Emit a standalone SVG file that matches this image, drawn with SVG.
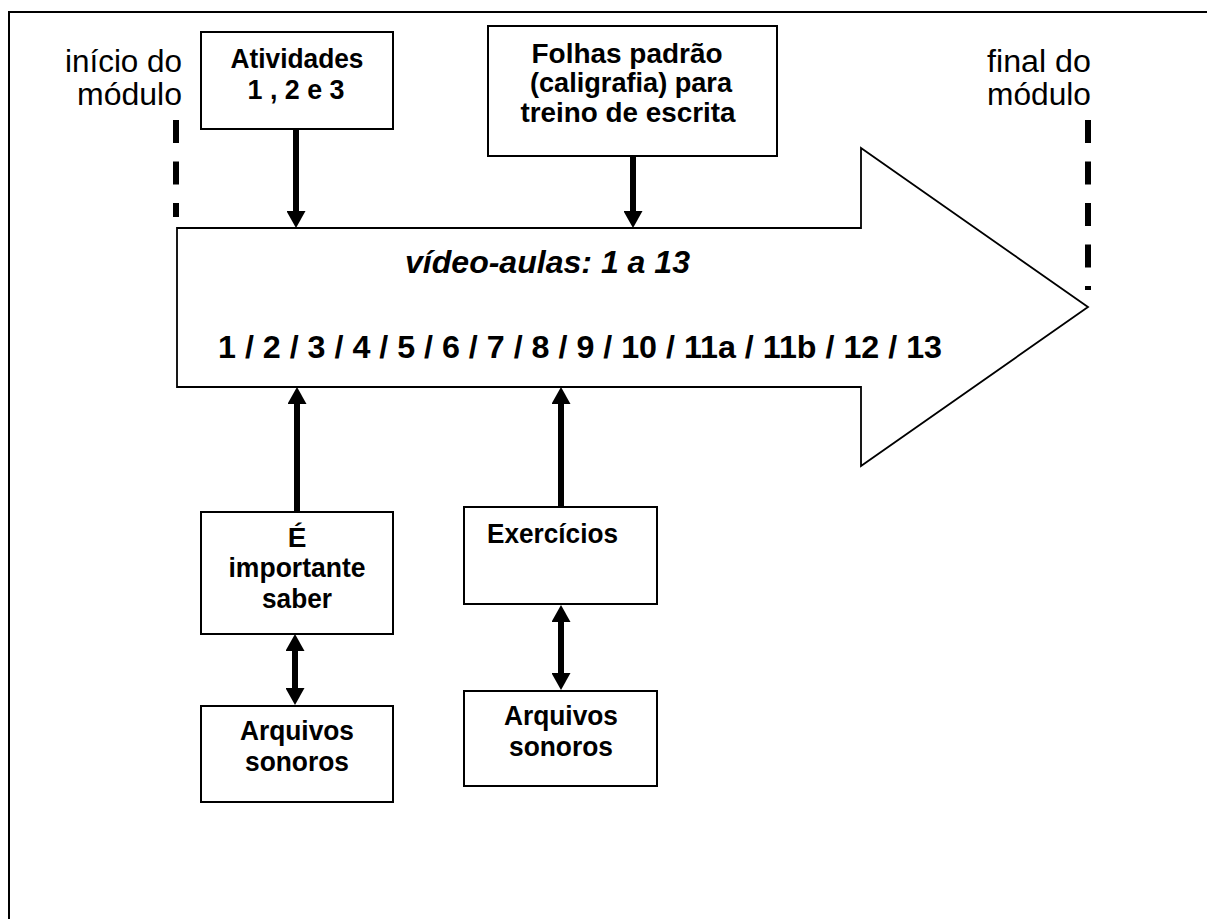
<svg xmlns="http://www.w3.org/2000/svg" width="1207" height="919" viewBox="0 0 1207 919">
<style>
.frame{fill:none;stroke:#000;stroke-width:2}
.box{fill:#fff;stroke:#000;stroke-width:2}
.big{fill:#fff;stroke:#000;stroke-width:1.8;stroke-linejoin:miter}
.dash{fill:none;stroke:#000;stroke-width:6;stroke-dasharray:23 18.5}
.conn{fill:none;stroke:#000;stroke-width:6}
.lbl{font-family:"Liberation Sans",Arial,sans-serif;font-size:31px;fill:#000}
.b{font-family:"Liberation Sans",Arial,sans-serif;font-size:28px;font-weight:bold;fill:#000}
.c{text-anchor:middle}
.bi{font-family:"Liberation Sans",Arial,sans-serif;font-size:31px;font-weight:bold;font-style:italic;fill:#000}
.num{font-family:"Liberation Sans",Arial,sans-serif;font-size:32px;font-weight:bold;fill:#000}
</style>
<defs>
<marker id="ah" markerUnits="userSpaceOnUse" markerWidth="17" markerHeight="19" viewBox="0 0 17 19" refX="3" refY="9.5" orient="auto-start-reverse">
<path d="M0,0 L17,9.5 L0,19 z" fill="#000"/>
</marker>
</defs>
<rect width="1207" height="919" fill="#fff"/>
<path class="frame" d="M9,919 V12 H1207"/>

<g id="inicio">
<text class="lbl" x="182" y="72" text-anchor="end" textLength="117" lengthAdjust="spacingAndGlyphs">início do</text>
<text class="lbl" x="182" y="105" text-anchor="end" textLength="105" lengthAdjust="spacingAndGlyphs">módulo</text>
<line class="dash" x1="176" y1="120" x2="176" y2="217"/>
</g>
<g id="final">
<text class="lbl" x="987" y="72" textLength="104" lengthAdjust="spacingAndGlyphs">final do</text>
<text class="lbl" x="987" y="105" textLength="104" lengthAdjust="spacingAndGlyphs">módulo</text>
<line class="dash" x1="1088" y1="120" x2="1088" y2="290"/>
</g>

<g id="videoaulas">
<polygon class="big" points="177,228 861,228 861,148 1088,307 861,466 861,387 177,387"/>
<text class="bi" x="405" y="273" textLength="285" lengthAdjust="spacingAndGlyphs">vídeo-aulas: 1 a 13</text>
<text class="num" x="218" y="358" textLength="724" lengthAdjust="spacingAndGlyphs">1 / 2 / 3 / 4 / 5 / 6 / 7 / 8 / 9 / 10 / 11a / 11b / 12 / 13</text>
</g>

<g id="atividades">
<rect class="box" x="201" y="32" width="192" height="97"/>
<text class="b c" x="297" y="68" textLength="133" lengthAdjust="spacingAndGlyphs">Atividades</text>
<text class="b c" x="296" y="99" textLength="97" lengthAdjust="spacingAndGlyphs">1 , 2 e 3</text>
</g>

<g id="folhas">
<rect class="box" x="488" y="26" width="289" height="130"/>
<text class="b c" x="627" y="63" textLength="191" lengthAdjust="spacingAndGlyphs">Folhas padrão</text>
<text class="b c" x="631" y="92" textLength="202" lengthAdjust="spacingAndGlyphs">(caligrafia) para</text>
<text class="b c" x="628" y="122" textLength="215" lengthAdjust="spacingAndGlyphs">treino de escrita</text>
</g>

<g id="importante">
<rect class="box" x="201" y="512" width="192" height="122"/>
<text class="b c" x="297" y="547">É</text>
<text class="b c" x="297" y="577" textLength="137" lengthAdjust="spacingAndGlyphs">importante</text>
<text class="b c" x="297" y="608" textLength="70" lengthAdjust="spacingAndGlyphs">saber</text>
</g>

<g id="arquivos1">
<rect class="box" x="201" y="706" width="192" height="96"/>
<text class="b c" x="297" y="740" textLength="114" lengthAdjust="spacingAndGlyphs">Arquivos</text>
<text class="b c" x="297" y="771" textLength="104" lengthAdjust="spacingAndGlyphs">sonoros</text>
</g>

<g id="exercicios">
<rect class="box" x="464" y="507" width="193" height="97"/>
<text class="b" x="487" y="543" textLength="131" lengthAdjust="spacingAndGlyphs">Exercícios</text>
</g>

<g id="arquivos2">
<rect class="box" x="464" y="691" width="193" height="95"/>
<text class="b c" x="561" y="725" textLength="114" lengthAdjust="spacingAndGlyphs">Arquivos</text>
<text class="b c" x="561" y="756" textLength="104" lengthAdjust="spacingAndGlyphs">sonoros</text>
</g>

<g id="connectors">
<line class="conn" x1="296" y1="130" x2="296" y2="214" marker-end="url(#ah)"/>
<line class="conn" x1="633" y1="157" x2="633" y2="214" marker-end="url(#ah)"/>
<line class="conn" x1="297" y1="511" x2="297" y2="401" marker-end="url(#ah)"/>
<line class="conn" x1="561" y1="506" x2="561" y2="401" marker-end="url(#ah)"/>
<line class="conn" x1="295" y1="648" x2="295" y2="691" marker-start="url(#ah)" marker-end="url(#ah)"/>
<line class="conn" x1="561" y1="619" x2="561" y2="676" marker-start="url(#ah)" marker-end="url(#ah)"/>
</g>
</svg>
